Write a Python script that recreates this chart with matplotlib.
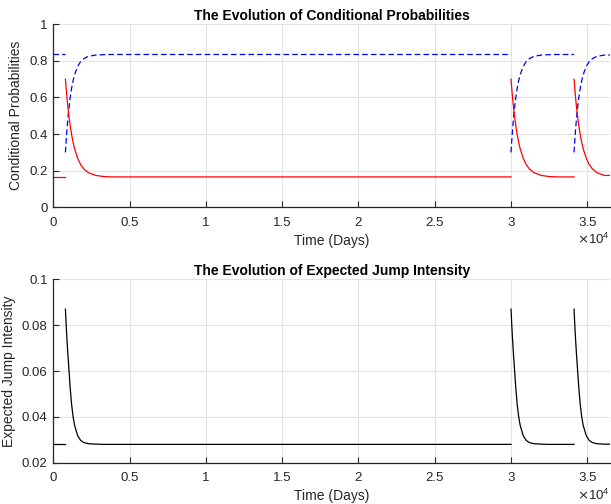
import numpy as np
import matplotlib
matplotlib.use('Agg')
import matplotlib.pyplot as plt
from matplotlib.ticker import FuncFormatter

# regime switch dates (days) and end of the simulation horizon
jump_days = [800, 30000, 34130]
end_day = 36500

# response after each switch, sampled at these offsets (days)
offset_days = [0, 50, 100, 150, 200, 300, 400, 500, 600, 800, 1000, 1200, 1500, 2000, 2500, 3000]
prob_high = [0.700, 0.648, 0.600, 0.558, 0.519, 0.453, 0.399, 0.356, 0.320, 0.268,
             0.233, 0.210, 0.189, 0.174, 0.168, 0.166]
prob_low = [0.300, 0.366, 0.424, 0.474, 0.519, 0.592, 0.648, 0.691, 0.725, 0.770,
            0.797, 0.812, 0.825, 0.832, 0.834, 0.835]
jump_intensity = [0.0870, 0.0800, 0.0738, 0.0684, 0.0636, 0.0537, 0.0457, 0.0402, 0.0363,
                  0.0318, 0.0297, 0.0288, 0.0283, 0.0281, 0.0280, 0.0280]

# steady state levels before the first switch
steady_high = 0.165
steady_low = 0.835
steady_intensity = 0.028

GRID = '#e3e3e3'
AXC = '#262626'
plt.rcParams['font.family'] = ['Liberation Sans', 'DejaVu Sans']


def segments(profile, steady):
    segs = [(np.array([0, jump_days[0]]), np.array([steady, steady]))]
    stops = jump_days[1:] + [end_day]
    for start, stop in zip(jump_days, stops):
        t = start + np.array(offset_days, dtype=float)
        y = np.array(profile, dtype=float)
        keep = t <= stop
        t, y = t[keep], y[keep]
        if t[-1] < stop:
            t = np.append(t, stop)
            y = np.append(y, y[-1])
        segs.append((t, y))
    return segs


def style(ax, ylab, yticks, ylim, ycoord):
    ax.set_xlim(0, end_day)
    ax.set_ylim(*ylim)
    ax.set_yticks(yticks)
    ax.set_xticks(np.arange(0, 36000, 5000))
    ax.xaxis.set_major_formatter(FuncFormatter(lambda v, p: '%g' % (v / 1e4)))
    ax.yaxis.set_major_formatter(FuncFormatter(lambda v, p: '%g' % v))
    ax.grid(True, color=GRID, linewidth=0.8)
    ax.set_axisbelow(True)
    for s in ['top', 'right']:
        ax.spines[s].set_visible(False)
    for s in ['left', 'bottom']:
        ax.spines[s].set_color(AXC)
        ax.spines[s].set_linewidth(0.9)
    ax.tick_params(direction='in', length=4, width=0.8, colors=AXC,
                   labelsize=9.5, pad=4)
    ax.tick_params(axis='x', pad=7)
    ax.set_xlabel('Time (Days)', fontsize=10, color=AXC, labelpad=3.5)
    ax.set_ylabel(ylab, fontsize=10, color=AXC)
    ax.yaxis.set_label_coords(ycoord, 0.5)
    ax.text(1.0, -0.177, r'$\times\mathregular{10^4}$', transform=ax.transAxes,
            ha='right', va='center', fontsize=9.5, color=AXC)


fig = plt.figure(figsize=(6.11, 5.04), dpi=100)
ax1 = fig.add_axes([0.0871, 0.5887, 0.9116, 0.3631])
ax2 = fig.add_axes([0.0871, 0.0819, 0.9116, 0.3639])

for t, y in segments(prob_low, steady_low):
    ax1.plot(t, y, color='b', linestyle='--', dashes=(4.5, 2.5), linewidth=0.9)
for t, y in segments(prob_high, steady_high):
    ax1.plot(t, y, color='r', linewidth=0.9)
style(ax1, 'Conditional Probabilities', np.arange(0, 1.01, 0.2), (0, 1), -0.055)
ax1.set_title('The Evolution of Conditional Probabilities', fontsize=10,
              fontweight='bold', pad=3)

for t, y in segments(jump_intensity, steady_intensity):
    ax2.plot(t, y, color='k', linewidth=0.9)
style(ax2, 'Expected Jump Intensity', np.arange(0.02, 0.101, 0.02), (0.02, 0.1), -0.066)
ax2.set_title('The Evolution of Expected Jump Intensity', fontsize=10,
              fontweight='bold', pad=3)

fig.savefig('out.png', dpi=100)
